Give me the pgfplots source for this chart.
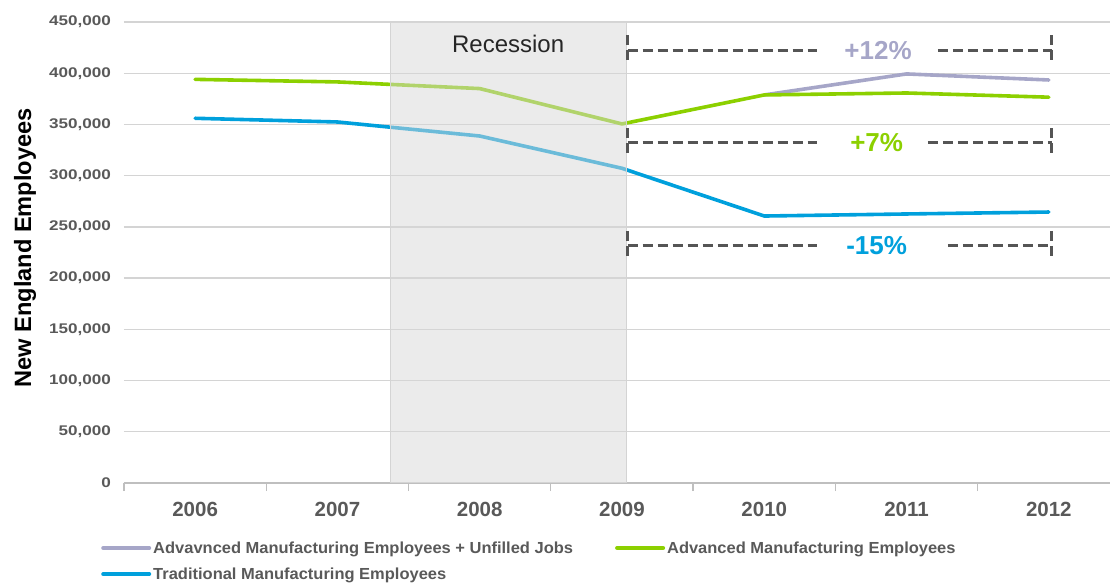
\documentclass[border=0pt]{standalone}
\usepackage{fontspec}
\setmainfont{Liberation Sans}
\newfontfamily\legfont[FakeStretch=1.03]{Liberation Sans}
\newfontfamily\tickfont[FakeStretch=1.22]{Liberation Sans}
\usepackage{pgfplots}
\pgfplotsset{compat=1.18}
\newcommand{\yl}[1]{{\tickfont\bfseries\fontsize{14}{17}\selectfont #1}}
\definecolor{cpurple}{HTML}{A6A6C8}
\definecolor{cgreen}{HTML}{8CD000}
\definecolor{cblue}{HTML}{00A0DC}
\definecolor{ctext}{HTML}{595959}
\definecolor{cgrid}{HTML}{D4D4D4}
\definecolor{cshade}{HTML}{D7D7D7}
\definecolor{cdash}{HTML}{555555}
\begin{document}
\begin{tikzpicture}
\path[use as bounding box] (-124pt,-102pt) rectangle (986pt,483pt);
\begin{axis}[
  at={(0,0)}, anchor=south west,
  width=986pt, height=461pt, scale only axis,
  xmin=-0.5, xmax=6.43, ymin=0, ymax=450000,
  axis x line*=bottom, axis y line*=left,
  x axis line style={color=cgrid!90!black, line width=1.3pt, -},
  y axis line style={draw=none},
  xtick={0,1,2,3,4,5,6},
  xticklabels={2006,2007,2008,2009,2010,2011,2012},
  minor xtick={-0.5,0.5,1.5,2.5,3.5,4.5,5.5},
  major tick length=0pt,
  minor tick length=8pt,
  tick align=outside,
  minor x tick style={color=cgrid!90!black, line width=1.3pt},
  ytick={0,50000,100000,150000,200000,250000,300000,350000,400000,450000},
  yticklabels={\yl{0},\yl{50,000},\yl{100,000},\yl{150,000},\yl{200,000},\yl{250,000},\yl{300,000},\yl{350,000},\yl{400,000},\yl{450,000}},
  ymajorgrids, major grid style={color=cgrid, line width=1.3pt},
  scaled y ticks=false,
  yticklabel style={text=ctext, anchor=east, inner sep=0pt, xshift=-13pt},
  xticklabel style={font=\fontsize{20.5}{24}\selectfont\bfseries, text=ctext, anchor=center, inner sep=0pt, yshift=-26pt},
  ylabel={New England Employees},
  ylabel style={at={(axis description cs:-0.1004,0.51)}, anchor=center, font=\fontsize{23.6}{28}\selectfont\bfseries, text=black},
  legend columns=2,
  legend cell align=left,
  legend style={at={(axis description cs:-0.0233,-0.122)}, anchor=north west, draw=none, fill=none, inner sep=0pt,
    font=\legfont\fontsize{16}{19}\selectfont\bfseries, text=ctext, row sep=9pt,
    /tikz/every even column/.append style={column sep=40pt},
    nodes={inner sep=2pt}},
  legend image code/.code={\draw[#1, line width=4pt, line cap=round] (0pt,0pt) -- (46pt,0pt);},
]
\addplot[cpurple, line width=3.6pt, line cap=round, line join=round] coordinates {(4,378800) (5,399300) (6,393400)};
\addlegendentry{Advavnced Manufacturing Employees + Unfilled Jobs}
\addplot[cgreen, line width=3.6pt, line cap=round, line join=round] coordinates {(0,394000) (1,391500) (2,385000) (3,350500) (4,378800) (5,380700) (6,376600)};
\addlegendentry{Advanced Manufacturing Employees}
\addplot[cblue, line width=3.6pt, line cap=round, line join=round] coordinates {(0,356000) (1,352400) (2,338700) (3,307200) (4,260600) (5,262600) (6,264500)};
\addlegendentry{Traditional Manufacturing Employees}

\path[fill=cshade, fill opacity=0.5, draw=cgrid, line width=1pt] (axis cs:1.37,0) rectangle (axis cs:3.03,450000);
\node[font=\fontsize{24}{28}\selectfont, text=black!85] at (axis cs:2.2,428500) {Recession};

% +12%
\draw[cdash, line width=3pt, dash pattern=on 10pt off 5pt] (axis cs:3.04,421700) -- (axis cs:4.37,421700);
\draw[cdash, line width=3pt, dash pattern=on 10pt off 5pt] (axis cs:5.22,421700) -- (axis cs:6.02,421700);
\draw[cdash, line width=3pt, dash pattern=on 10pt off 5pt] (axis cs:3.04,437300) -- (axis cs:3.04,410000);
\draw[cdash, line width=3pt, dash pattern=on 10pt off 5pt] (axis cs:6.02,437300) -- (axis cs:6.02,410000);
\node[text=cpurple, font=\fontsize{26}{30}\selectfont\bfseries] at (axis cs:4.8,421700) {+12\%};
% +7%
\draw[cdash, line width=3pt, dash pattern=on 10pt off 5pt] (axis cs:3.04,331900) -- (axis cs:4.37,331900);
\draw[cdash, line width=3pt, dash pattern=on 10pt off 5pt] (axis cs:5.15,331900) -- (axis cs:6.02,331900);
\draw[cdash, line width=3pt, dash pattern=on 10pt off 5pt] (axis cs:3.04,346500) -- (axis cs:3.04,318200);
\draw[cdash, line width=3pt, dash pattern=on 10pt off 5pt] (axis cs:6.02,346500) -- (axis cs:6.02,318200);
\node[text=cgreen, font=\fontsize{26}{30}\selectfont\bfseries] at (axis cs:4.79,331900) {+7\%};
% -15%
\draw[cdash, line width=3pt, dash pattern=on 10pt off 5pt] (axis cs:3.04,231400) -- (axis cs:4.37,231400);
\draw[cdash, line width=3pt, dash pattern=on 10pt off 5pt] (axis cs:5.29,231400) -- (axis cs:6.02,231400);
\draw[cdash, line width=3pt, dash pattern=on 10pt off 5pt] (axis cs:3.04,246000) -- (axis cs:3.04,217700);
\draw[cdash, line width=3pt, dash pattern=on 10pt off 5pt] (axis cs:6.02,246000) -- (axis cs:6.02,217700);
\node[text=cblue, font=\fontsize{26}{30}\selectfont\bfseries] at (axis cs:4.79,231400) {-15\%};
\end{axis}
\end{tikzpicture}
\end{document}
